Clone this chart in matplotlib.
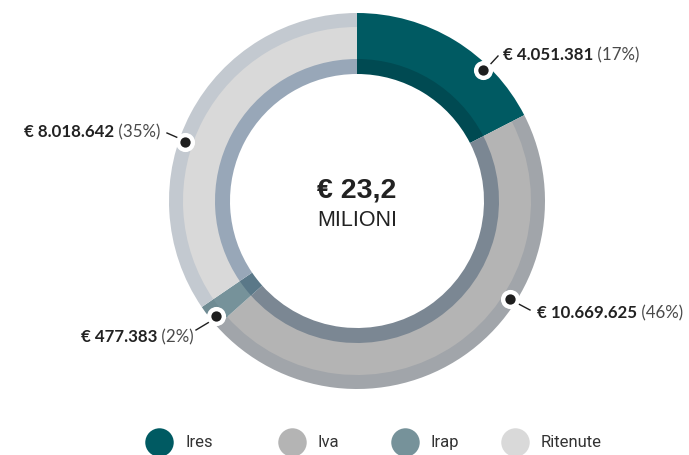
import numpy as np
import matplotlib
matplotlib.use("Agg")
from matplotlib import pyplot as plt

# Data
categories = ["Ires", "Iva", "Irap", "Ritenute"]
values = [4051381, 10669625, 477383, 8018642]
value_labels = ["€ 4.051.381", "€ 10.669.625", "€ 477.383", "€ 8.018.642"]
pct_labels = ["(17%)", "(46%)", "(2%)", "(35%)"]
total_label = "€ 23,2"
total_unit = "MILIONI"

# Colours per slice: main body, outer band, inner band
main_colors = ["#005a62", "#b4b4b4", "#76929a", "#d9d9d9"]
outer_colors = ["#005a62", "#a1a5aa", "#6f8b93", "#c3c9d0"]
inner_colors = ["#004a52", "#7b8793", "#5a7888", "#98a7b8"]

W, H = 689, 456
fig = plt.figure(figsize=(W / 100, H / 100), dpi=100)
ax = fig.add_axes([0, 0, 1, 1])

def py(y):
    # pixel row -> data y
    return H - y

cx, cy = 357, py(202)
wp = dict(linewidth=0)

ax.pie(values, colors=outer_colors, radius=188, center=(cx, cy), startangle=90,
       counterclock=False, wedgeprops=dict(width=15, **wp))
ax.pie(values, colors=main_colors, radius=174, center=(cx, cy), startangle=90,
       counterclock=False, wedgeprops=dict(width=33, **wp))
ax.pie(values, colors=inner_colors, radius=142, center=(cx, cy), startangle=90,
       counterclock=False, wedgeprops=dict(width=15, **wp))

ax.set_xlim(0, W)
ax.set_ylim(0, H)
ax.set_aspect("equal")
ax.axis("off")

# center text
ax.text(cx, py(190), total_label, ha="center", va="center", fontsize=20.5,
        fontweight="bold", color="#222222", family="Liberation Sans")
ax.text(cx, py(220), total_unit, ha="center", va="center", fontsize=15.5,
        color="#222222", family="Liberation Sans")

# label markers (angle clockwise from top, radius in px)
dot_angles = [44, 122.5, 230.7, 289]
dot_r = 182
for a in dot_angles:
    t = np.radians(a)
    x, y = cx + dot_r * np.sin(t), cy + dot_r * np.cos(t)
    ax.scatter(x, y, s=190, color="white", zorder=4, linewidths=0)
    ax.scatter(x, y, s=55, color="#1e1e1e", zorder=5, linewidths=0)

# leader lines (pixel coords)
leaders = [((486, 70), (498, 57)), ((513, 302), (530, 311)),
           ((211, 322), (196, 331)), ((183, 141), (167, 134))]
for (x0, y0), (x1, y1) in leaders:
    ax.plot([x0, x1], [py(y0), py(y1)], color="#1e1e1e", lw=1, zorder=3)

# label text: (x, y, left or right anchored)
label_pos = [(503, 55, "left"), (537, 313, "left"), (194, 337, "right"), (160, 132, "right")]
lab_font = dict(fontsize=12.2, family="Lato")
for i, (x, y, side) in enumerate(label_pos):
    if side == "left":
        t1 = ax.text(x, py(y), value_labels[i], ha="left", va="center",
                     fontweight="bold", color="#222222", **lab_font)
        ax.annotate(" " + pct_labels[i], xy=(1, 0), xycoords=t1, ha="left", va="bottom",
                    color="#4a4a4a", **lab_font)
    else:
        t2 = ax.text(x, py(y), " " + pct_labels[i], ha="right", va="center",
                     color="#4a4a4a", **lab_font)
        ax.annotate(value_labels[i], xy=(0, 0), xycoords=t2, ha="right", va="bottom",
                    fontweight="bold", color="#222222", **lab_font)

# legend
leg_x = [159, 292, 405, 515]
leg_y = py(443)
for i, name in enumerate(categories):
    ax.scatter(leg_x[i], leg_y, s=420, color=main_colors[i], linewidths=0, clip_on=False)
    ax.text(leg_x[i] + 26, leg_y, name, ha="left", va="center", fontsize=12,
            color="#333333", family="Roboto")

fig.savefig("out.png", dpi=100)
